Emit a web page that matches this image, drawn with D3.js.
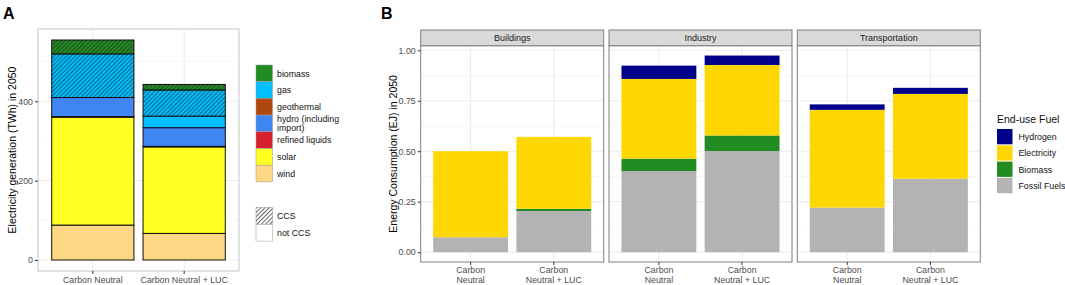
<!DOCTYPE html>
<html>
<head>
<meta charset="utf-8">
<script src="https://cdn.jsdelivr.net/npm/d3@7"></script>
<style>
    body { margin: 0; background: #fff; }
    svg { font-family: "Liberation Sans", Arial, sans-serif; }
    .tick text { fill: #4D4D4D; font-size: 8.8px; }
    .tick line { stroke: #333; }
</style>
</head>
<body>
<div id="chart"></div>
<script>
// ---- panel A data: electricity generation (TWh) in 2050 ----
const scenarios = ["Carbon Neutral", "Carbon Neutral + LUC"];
const elecFuels = ["biomass", "gas", "geothermal", "hydro (including import)", "refined liquids", "solar", "wind"];
const elecColors = ["#228B22", "#00BFFF", "#B0470F", "#3F86F3", "#D7202F", "#FFFF22", "#FDD783"];
// stacked from the bottom up
const elecSegFuel = ["wind", "solar", "refined liquids", "hydro (including import)", "gas", "gas", "biomass"];
const elecSegCCS  = [false, false, false, false, false, true, true];
const elecCN      = [88, 272, 1.5, 48, 0, 110, 35];
const elecLUC     = [67, 218, 1.5, 47, 29, 66, 14];
const elecTicks   = [0, 200, 400];

// ---- panel B data: energy consumption (EJ) in 2050 ----
const sectors = ["Buildings", "Industry", "Transportation"];
const endFuels = ["Hydrogen", "Electricity", "Biomass", "Fossil Fuels"];
const endColors = ["#00008B", "#FFD700", "#228B22", "#B3B3B3"];
// per sector: [Carbon Neutral, Carbon Neutral + LUC]
const fossilFuels = [[0.074, 0.204], [0.402, 0.501], [0.221, 0.364]];
const biomass     = [[0, 0.011], [0.061, 0.077], [0, 0]];
const electricity = [[0.426, 0.356], [0.395, 0.349], [0.484, 0.420]];
const hydrogen    = [[0, 0], [0.066, 0.047], [0.027, 0.030]];
const consTicks   = [0, 0.25, 0.5, 0.75, 1];

const svg = d3.select("#chart").append("svg")
    .attr("width", 1065)
    .attr("height", 285);

// hatch pattern for CCS
const defs = svg.append("defs");
defs.append("pattern")
    .attr("id", "hatch")
    .attr("patternUnits", "userSpaceOnUse")
    .attr("width", 3)
    .attr("height", 3)
    .attr("patternTransform", "rotate(45)")
    .append("line")
    .attr("x1", 0).attr("y1", 0)
    .attr("x2", 0).attr("y2", 3)
    .attr("stroke", "#222")
    .attr("stroke-width", 1.4);

function addGrid(g, y, ticks, minor, centers, w, h) {
    g.selectAll("line.minor").data(minor).enter().append("line")
        .attr("x1", 0).attr("x2", w)
        .attr("y1", d => y(d)).attr("y2", d => y(d))
        .attr("stroke", "#F2F2F2").attr("stroke-width", 0.6);
    g.selectAll("line.major").data(ticks).enter().append("line")
        .attr("x1", 0).attr("x2", w)
        .attr("y1", d => y(d)).attr("y2", d => y(d))
        .attr("stroke", "#EBEBEB").attr("stroke-width", 1);
    g.selectAll("line.vmajor").data(centers).enter().append("line")
        .attr("x1", d => d).attr("x2", d => d)
        .attr("y1", 0).attr("y2", h)
        .attr("stroke", "#EBEBEB").attr("stroke-width", 1);
}

// ================= PANEL A =================
{
    const m = {left: 38, top: 29}, w = 201, h = 242;
    const g = svg.append("g").attr("transform", "translate(" + m.left + "," + m.top + ")");

    const x = d3.scaleBand().domain(scenarios).range([0, w]).paddingInner(0.1).paddingOuter(0.15);
    const totals = [d3.sum(elecCN), d3.sum(elecLUC)];
    const ymax = d3.max(totals);
    const y = d3.scaleLinear().domain([-0.05 * ymax, 1.05 * ymax]).range([h, 0]);
    const color = d3.scaleOrdinal().domain(elecFuels).range(elecColors);

    addGrid(g, y, elecTicks, [100, 300, 500],
        scenarios.map(s => x(s) + x.bandwidth() / 2), w, h);

    // build stacked segments
    const rows = [elecCN, elecLUC].map((vals, i) => {
        const r = {scenario: scenarios[i]};
        vals.forEach((v, k) => r[k] = v);
        return r;
    });
    const stack = d3.stack().keys(d3.range(elecSegFuel.length))(rows);

    stack.forEach((layer, k) => {
        layer.forEach(d => {
            if (d[1] - d[0] <= 0) return;
            const bx = x(d.data.scenario), by = y(d[1]), bh = y(d[0]) - y(d[1]);
            g.append("rect")
                .attr("x", bx).attr("y", by)
                .attr("width", x.bandwidth()).attr("height", bh)
                .attr("fill", color(elecSegFuel[k]));
            if (elecSegCCS[k]) {
                g.append("rect")
                    .attr("x", bx).attr("y", by)
                    .attr("width", x.bandwidth()).attr("height", bh)
                    .attr("fill", "url(#hatch)")
                    .attr("opacity", 0.85);
            }
            g.append("rect")
                .attr("x", bx).attr("y", by)
                .attr("width", x.bandwidth()).attr("height", bh)
                .attr("fill", "none")
                .attr("stroke", "#111")
                .attr("stroke-width", 1);
        });
    });

    g.append("rect").attr("width", w).attr("height", h)
        .attr("fill", "none").attr("stroke", "#C4C4C4").attr("stroke-width", 1);

    const yAxis = g.append("g").call(d3.axisLeft(y).tickValues(elecTicks).tickSize(3).tickPadding(2));
    yAxis.select(".domain").remove();
    const xAxis = g.append("g").attr("transform", "translate(0," + h + ")")
        .call(d3.axisBottom(x).tickSize(3).tickPadding(3));
    xAxis.select(".domain").remove();

    svg.append("text")
        .attr("transform", "translate(16," + (m.top + h / 2) + ") rotate(-90)")
        .attr("text-anchor", "middle")
        .attr("font-size", 10.5)
        .text("Electricity generation (TWh) in 2050");

    svg.append("text").attr("x", 3).attr("y", 18.5)
        .attr("font-size", 16).attr("font-weight", "bold").text("A");

    // legend: fuels
    const lg = svg.append("g").attr("transform", "translate(256,65)");
    elecFuels.forEach((f, i) => {
        lg.append("rect").attr("x", 0).attr("y", i * 16.7)
            .attr("width", 16.5).attr("height", 16.7)
            .attr("fill", color(f)).attr("stroke", "#999").attr("stroke-width", 0.5);
    });
    const labelLines = [["biomass"], ["gas"], ["geothermal"], ["hydro (including", "import)"], ["refined liquids"], ["solar"], ["wind"]];
    labelLines.forEach((lines, i) => {
        const t = lg.append("text").attr("x", 21).attr("font-size", 8.8).attr("fill", "#111");
        const cy = i * 16.7 + 8.35;
        lines.forEach((l, j) => {
            t.append("tspan").attr("x", 21)
                .attr("y", cy + 3.2 + (j - (lines.length - 1) / 2) * 8.6)
                .text(l);
        });
    });

    // legend: CCS
    const lc = svg.append("g").attr("transform", "translate(256,207.5)");
    ["CCS", "not CCS"].forEach((lab, i) => {
        lc.append("rect").attr("y", i * 16.8).attr("width", 16.5).attr("height", 16.8)
            .attr("fill", "#fff").attr("stroke", "#999").attr("stroke-width", 0.5);
        if (i === 0) {
            lc.append("rect").attr("y", 0).attr("width", 16.5).attr("height", 16.8)
                .attr("fill", "url(#hatch)");
        }
        lc.append("text").attr("x", 21).attr("y", i * 16.8 + 11.5)
            .attr("font-size", 8.8).attr("fill", "#111").text(lab);
    });
}

// ================= PANEL B =================
{
    const top = 45.7, stripH = 15.7, h = 216.3, pw = 183, gap = 5.3, left0 = 420.7;
    const y = d3.scaleLinear().domain([-0.0487, 1.0227]).range([h, 0]);
    const x = d3.scaleBand().domain(scenarios).range([0, pw]).paddingInner(0.1).paddingOuter(0.15);
    const color = d3.scaleOrdinal().domain(endFuels).range(endColors);
    const stackOrder = ["Fossil Fuels", "Biomass", "Electricity", "Hydrogen"];
    const byFuel = {"Fossil Fuels": fossilFuels, "Biomass": biomass, "Electricity": electricity, "Hydrogen": hydrogen};

    sectors.forEach((sec, si) => {
        const px = left0 + si * (pw + gap);
        const g = svg.append("g").attr("transform", "translate(" + px + "," + top + ")");

        addGrid(g, y, consTicks, [0.125, 0.375, 0.625, 0.875],
            scenarios.map(s => x(s) + x.bandwidth() / 2), pw, h);

        const rows = scenarios.map((s, j) => {
            const r = {scenario: s};
            stackOrder.forEach(f => r[f] = byFuel[f][si][j]);
            return r;
        });
        const stack = d3.stack().keys(stackOrder)(rows);
        g.selectAll("g.layer").data(stack).enter().append("g")
            .attr("fill", d => color(d.key))
            .selectAll("rect").data(d => d).enter().append("rect")
            .attr("x", d => x(d.data.scenario))
            .attr("y", d => y(d[1]))
            .attr("width", x.bandwidth())
            .attr("height", d => y(d[0]) - y(d[1]));

        g.append("rect").attr("width", pw).attr("height", h)
            .attr("fill", "none").attr("stroke", "#7F7F7F").attr("stroke-width", 1);

        // strip
        g.append("rect").attr("y", -stripH).attr("width", pw).attr("height", stripH)
            .attr("fill", "#D9D9D9").attr("stroke", "#7F7F7F").attr("stroke-width", 1);
        g.append("text").attr("x", pw / 2).attr("y", -stripH / 2 + 3.2)
            .attr("text-anchor", "middle").attr("font-size", 9).attr("fill", "#1A1A1A")
            .text(sec);

        // x axis with two-line labels
        const xAxis = g.append("g").attr("transform", "translate(0," + h + ")")
            .call(d3.axisBottom(x).tickSize(3).tickPadding(3).tickFormat(""));
        xAxis.select(".domain").remove();
        xAxis.selectAll(".tick").each(function (d) {
            const t = d3.select(this).append("text")
                .attr("text-anchor", "middle").attr("font-size", 8.8);
            const lines = d === "Carbon Neutral" ? ["Carbon", "Neutral"] : ["Carbon", "Neutral + LUC"];
            lines.forEach((l, j) => t.append("tspan").attr("x", 0).attr("y", 11.3 + j * 9.4).text(l));
        });

        if (si === 0) {
            const yAxis = g.append("g").call(d3.axisLeft(y).tickValues(consTicks)
                .tickFormat(d3.format(".2f")).tickSize(3).tickPadding(2));
            yAxis.select(".domain").remove();
        }
    });

    svg.append("text")
        .attr("transform", "translate(397," + (top + h / 2) + ") rotate(-90)")
        .attr("text-anchor", "middle")
        .attr("font-size", 10.5)
        .text("Energy Consumption (EJ) in 2050");

    svg.append("text").attr("x", 381).attr("y", 18.5)
        .attr("font-size", 16).attr("font-weight", "bold").text("B");

    // legend
    const lg = svg.append("g").attr("transform", "translate(997,129)");
    lg.append("text").attr("x", 0).attr("y", -6).attr("font-size", 10.5).attr("fill", "#111")
        .text("End-use Fuel");
    endFuels.forEach((f, i) => {
        lg.append("rect").attr("y", i * 16.3).attr("width", 15.5).attr("height", 15.3)
            .attr("fill", color(f));
        lg.append("text").attr("x", 21.5).attr("y", i * 16.3 + 11)
            .attr("font-size", 8.8).attr("fill", "#111").text(f);
    });
}
</script>
</body>
</html>
